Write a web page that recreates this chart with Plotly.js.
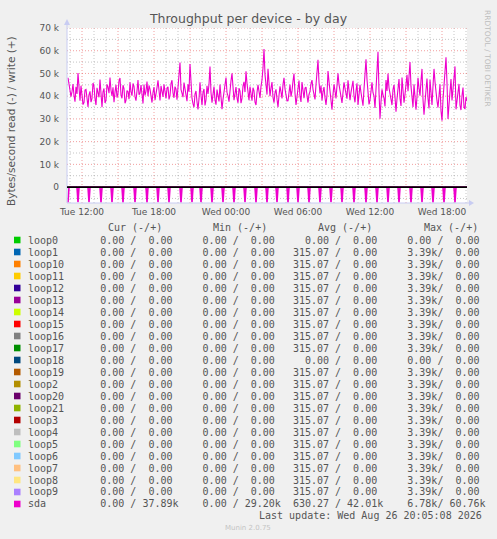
<!DOCTYPE html>
<html>
<head>
<meta charset="utf-8">
<script src="https://cdn.plot.ly/plotly-3.0.1.min.js"></script>
<style>html,body{margin:0;padding:0;background:#F0F0F0;}#chart{width:497px;height:539px;}</style>
</head>
<body>
<div id="chart"></div>
<script>
// ---------- DATA ----------
const sampleStart = '2026-08-25 10:50';   // first sample (5-minute steps)
const sampleStepMin = 5;
const viewStart = '2026-08-25 10:45';
const viewEnd = '2026-08-26 20:05';

// sda write (+), kB/s
const sdaWriteK = [
  48.1, 44.5, 43.2, 39.8, 42.0, 45.3, 40.3, 37.6, 44.1, 41.0, 50.2, 43.5, 38.0, 44.6, 41.4, 36.3, 37.2, 42.7, 43.0, 38.4,
  35.3, 40.6, 42.1, 37.4, 39.0, 45.8, 44.2, 38.9, 36.1, 43.7, 41.0, 39.5, 47.3, 40.2, 35.2, 41.9, 43.4, 37.0, 38.1, 45.2,
  44.0, 41.3, 48.2, 42.6, 40.1, 43.9, 37.3, 41.8, 45.0, 39.4, 41.2, 46.7, 48.0, 40.5, 39.1, 44.8, 43.3, 36.9, 38.2, 42.5,
  42.0, 38.7, 46.1, 41.9, 40.2, 45.6, 44.3, 39.8, 38.0, 42.4, 47.1, 40.6, 41.3, 44.9, 39.2, 36.8, 45.1, 40.3, 42.2, 46.4,
  40.0, 44.7, 43.1, 39.5, 37.2, 41.6, 44.0, 38.3, 40.3, 43.8, 47.0, 41.2, 38.1, 44.5, 42.4, 39.7, 45.2, 41.0, 39.0, 43.6,
  44.1, 38.6, 40.2, 45.5, 47.0, 41.4, 39.3, 44.2, 43.1, 38.5, 44.0, 46.3, 54.8, 43.0, 41.2, 39.6, 46.0, 43.4, 40.1, 37.8,
  45.2, 42.0, 54.1, 44.8, 39.0, 36.7, 35.1, 40.9, 42.3, 37.5, 34.2, 38.8, 46.1, 40.4, 36.0, 41.7, 43.2, 35.9, 38.3, 44.6,
  41.0, 45.3, 53.0, 41.6, 37.1, 40.8, 44.2, 38.4, 36.3, 42.9, 40.0, 37.7, 45.1, 39.9, 34.3, 38.6, 42.0, 44.9, 48.2, 41.5,
  40.1, 37.6, 43.3, 46.8, 50.1, 42.7, 38.2, 41.1, 44.0, 39.2, 37.1, 43.5, 42.2, 36.9, 39.0, 44.4, 46.3, 41.8, 51.0, 45.6,
  41.1, 38.2, 44.2, 40.5, 38.0, 43.7, 42.3, 37.4, 36.1, 41.6, 45.0, 42.1, 39.2, 44.3, 47.1, 52.4, 60.76, 49.5, 44.0, 40.7,
  52.1, 45.8, 40.0, 43.6, 46.2, 39.4, 37.1, 41.5, 43.0, 38.7, 35.2, 40.3, 44.3, 41.9, 39.0, 45.1, 48.1, 43.2, 41.2, 37.9,
  38.0, 41.4, 45.1, 39.8, 42.2, 46.6, 50.0, 41.3, 36.1, 39.7, 43.3, 46.9, 40.0, 37.5, 46.2, 42.8, 39.1, 43.6, 44.0, 40.2,
  37.2, 40.8, 42.0, 45.4, 47.1, 43.0, 40.3, 38.6, 45.0, 49.3, 56.0, 46.1, 41.2, 44.7, 38.1, 41.9, 44.0, 39.3, 36.2, 40.5,
  51.1, 46.4, 42.0, 38.5, 34.1, 40.7, 45.2, 42.3, 39.0, 44.6, 50.1, 45.2, 43.2, 39.8, 37.0, 42.5, 46.1, 43.4, 41.3, 38.9,
  47.0, 42.1, 38.2, 41.7, 44.1, 46.8, 40.0, 37.3, 42.3, 45.7, 36.1, 40.4, 45.0, 41.6, 39.2, 35.8, 43.1, 48.5, 56.2, 47.4,
  42.0, 36.4, 38.3, 43.9, 46.1, 41.5, 40.0, 34.8, 44.2, 52.7, 59.5, 41.8, 30.1, 37.6, 43.0, 40.6, 39.2, 35.5, 47.1, 42.3,
  50.0, 43.7, 41.2, 38.4, 36.1, 42.9, 45.0, 39.6, 33.2, 38.9, 44.1, 47.5, 39.0, 35.7, 48.2, 42.4, 37.1, 40.8, 46.0, 49.4,
  42.2, 47.6, 55.0, 44.3, 38.1, 35.2, 45.2, 41.0, 34.0, 39.7, 48.1, 43.5, 40.2, 46.9, 52.0, 38.6, 31.8, 37.4, 44.1, 47.8,
  39.0, 34.6, 47.2, 42.8, 36.1, 44.5, 52.0, 46.3, 41.1, 37.9, 35.0, 40.2, 45.2, 33.6, 29.2, 38.5, 44.0, 50.3, 57.1, 45.9,
  30.0, 36.2, 43.2, 47.5, 38.1, 42.6, 48.0, 53.1, 34.2, 38.7, 41.1, 45.4, 36.0, 33.9, 40.2, 43.8, 35.1, 34.4, 39.6, 37.89
];

// sda read (-), kB/s  (20 samples per row)
const sdaReadK = [
  6.78,0,0,0,0,0,0,0,0,0, 6.70,0,0,0,0,0,0,0,0,0,
  0,6.65,0,0,0,0,0,0,0,0, 0,0,0,6.72,0,0,0,0,0,0,
  0,0,0,0,6.69,0,0,0,0,0, 0,0,0,0,0,6.76,0,0,0,0,
  0,0,0,0,0,0,0,6.70,0,0, 0,0,0,0,0,0,0,0,0,6.74,
  0,0,0,0,0,0,0,0,0,0, 6.68,0,0,0,0,0,0,0,0,0,
  0,6.72,0,0,0,0,0,0,0,0, 0,0,0,6.78,0,0,0,0,0,0,
  0,0,0,0,6.70,0,0,0,0,0, 0,0,0,6.65,0,0,0,0,0,0,
  0,0,0,0,6.73,0,0,0,0,0, 0,0,0,0,0,6.69,0,0,0,0,
  0,0,0,0,0,0,6.76,0,0,0, 0,0,0,0,0,0,0,6.70,0,0,
  0,0,0,0,0,0,0,0,6.72,0, 0,0,0,0,0,0,0,0,0,6.78,
  0,0,0,0,0,0,0,0,0,6.69, 0,0,0,0,0,0,0,0,0,0,
  6.74,0,0,0,0,0,0,0,0,0, 6.70,0,0,0,0,0,0,0,0,0,
  0,6.72,0,0,0,0,0,0,0,0, 0,0,6.76,0,0,0,0,0,0,0,
  0,0,0,6.70,0,0,0,0,0,0, 0,0,0,0,6.68,0,0,0,0,0,
  0,0,0,0,0,0,6.74,0,0,0, 0,0,0,0,0,0,0,0,6.78,0,
  0,0,0,0,0,0,0,0,0,6.72, 0,0,0,0,0,0,0,0,0,0,
  6.70,0,0,0,0,0,0,0,0,0, 0,6.76,0,0,0,0,0,0,0,0,
  0,0,0,6.73,0,0,0,0,0,0, 0,0,0,0,6.69,0,0,0,0,0,
  0,0,0,0,0,6.75,0,0,0,0, 0,0,0,0,0,0,6.71,0,0,0,
  0,0,0,0,0,0,0,6.76,0,0, 0,0,0,0,0,0,0,0,0,0
];

const yTickVals = [0, 10000, 20000, 30000, 40000, 50000, 60000, 70000];
const yTickText = ['0', '10 k', '20 k', '30 k', '40 k', '50 k', '60 k', '70 k'];
const xTickVals = ['2026-08-25 12:00','2026-08-25 18:00','2026-08-26 00:00',
                   '2026-08-26 06:00','2026-08-26 12:00','2026-08-26 18:00'];
const xTickText = ['Tue 12:00','Tue 18:00','Wed 00:00','Wed 06:00','Wed 12:00','Wed 18:00'];

const devices = ['loop0','loop1','loop10','loop11','loop12','loop13','loop14','loop15','loop16','loop17',
                 'loop18','loop19','loop2','loop20','loop21','loop3','loop4','loop5','loop6','loop7',
                 'loop8','loop9','sda'];
const deviceColors = ['#00CC00','#0066B3','#FF8000','#FFCC00','#330099','#990099','#CCFF00','#FF0000',
                      '#808080','#008F00','#00487D','#B35A00','#B38F00','#6B006B','#8FB300','#B30000',
                      '#BEBEBE','#80FF80','#80C9FF','#FFC080','#FFE680','#AA80FF','#EE00CC'];
const curRead  = [0,0,0,0,0,0,0,0,0,0,0,0,0,0,0,0,0,0,0,0,0,0,0];
const curWrite = [0,0,0,0,0,0,0,0,0,0,0,0,0,0,0,0,0,0,0,0,0,0,37890];
const minRead  = [0,0,0,0,0,0,0,0,0,0,0,0,0,0,0,0,0,0,0,0,0,0,0];
const minWrite = [0,0,0,0,0,0,0,0,0,0,0,0,0,0,0,0,0,0,0,0,0,0,29200];
const avgRead  = [0,315.07,315.07,315.07,315.07,315.07,315.07,315.07,315.07,315.07,0,315.07,315.07,315.07,315.07,315.07,315.07,315.07,315.07,315.07,315.07,315.07,630.27];
const avgWrite = [0,0,0,0,0,0,0,0,0,0,0,0,0,0,0,0,0,0,0,0,0,0,42010];
const maxRead  = [0,3390,3390,3390,3390,3390,3390,3390,3390,3390,0,3390,3390,3390,3390,3390,3390,3390,3390,3390,3390,3390,6780];
const maxWrite = [0,0,0,0,0,0,0,0,0,0,0,0,0,0,0,0,0,0,0,0,0,0,60760];
const columnHeaders = ['Cur (-/+)','Min (-/+)','Avg (-/+)','Max (-/+)'];
const lastUpdate = 'Last update: Wed Aug 26 20:05:08 2026';

// ---------- BUILD ----------
function toUTC(s) { const p = s.split(/[- :]/).map(Number); return Date.UTC(p[0], p[1]-1, p[2], p[3], p[4]); }
function fmtDate(ms) { return new Date(ms).toISOString().slice(0,16).replace('T',' '); }
const t0 = toUTC(sampleStart);
const times = sdaWriteK.map((_, i) => fmtDate(t0 + i*sampleStepMin*60000));

// pixel helpers (plot area: x 67..467, y 28..203)
const L = 67, R = 467, T = 28, B = 203;
const px = x => (x - L) / (R - L);
const py = y => (B - y) / (B - T);

const textCol = '#555555';
const mono = 'DejaVu Sans Mono';
const nb = s => s.replace(/ /g, '\u00A0');
function fmt(v) {
  if (v >= 1000) return (v/1000).toFixed(2).padStart(6) + 'k';
  return v.toFixed(2).padStart(6) + ' ';
}
const pair = (r, w) => fmt(r) + '/' + fmt(w);

const annotations = [];
const shapes = [];

// grid (minor grey every hour / 5k, major red every 3 hours / 10k)
const majorGrid = 'rgba(232,80,80,0.55)';
const minorGrid = 'rgba(140,140,140,0.5)';
const gridDash = '1px,2px';
const vs = toUTC(viewStart), ve = toUTC(viewEnd);
for (let h = Math.ceil(vs/3600000)*3600000; h <= ve; h += 3600000) {
  const major = (new Date(h).getUTCHours() % 3) === 0;
  shapes.push({type:'line', xref:'x', yref:'paper', x0:fmtDate(h), x1:fmtDate(h), y0:0, y1:1,
    line:{color: major ? majorGrid : minorGrid, width:1, dash:gridDash}, layer:'below'});
}
for (let v = -5000; v <= 70000; v += 5000) {
  const major = v % 10000 === 0;
  shapes.push({type:'line', xref:'paper', yref:'y', x0:0, x1:1, y0:v, y1:v,
    line:{color: major ? majorGrid : minorGrid, width:1, dash:gridDash}, layer:'below'});
}

annotations.push({xref:'paper', yref:'paper', x:px(11), y:py(121), text:'Bytes/second read (-) / write (+)',
  textangle:-90, showarrow:false, font:{family:'DejaVu Sans', size:10.5, color:textCol}, xanchor:'center', yanchor:'middle'});
annotations.push({xref:'paper', yref:'paper', x:px(487), y:py(58), text:'RRDTOOL / TOBI OETIKER',
  textangle:90, showarrow:false, font:{family:'DejaVu Sans', size:7.5, color:'#BDBDBD'}, xanchor:'center', yanchor:'middle'});

const headerX = [107, 212, 317, 423];
columnHeaders.forEach((h, k) => annotations.push({xref:'paper', yref:'paper', x:px(headerX[k]-1), y:py(227),
  text:nb(h), showarrow:false, xanchor:'left', yanchor:'middle', font:{family:mono, size:10, color:textCol}}));

devices.forEach((d, i) => {
  const yy = 240 + i*12;
  const row = d.padEnd(10) + pair(curRead[i], curWrite[i]) + '  ' + pair(minRead[i], minWrite[i]) + '  ' +
              pair(avgRead[i], avgWrite[i]) + '  ' + pair(maxRead[i], maxWrite[i]);
  annotations.push({xref:'paper', yref:'paper', x:px(26), y:py(yy), text:nb(row), showarrow:false,
    xanchor:'left', yanchor:'middle', font:{family:mono, size:10, color:textCol}});
  shapes.push({type:'rect', xref:'paper', yref:'paper', x0:px(14), x1:px(20.5), y0:py(yy-3.3), y1:py(yy+3.3),
    fillcolor:deviceColors[i], line:{width:0}});
});

annotations.push({xref:'paper', yref:'paper', x:px(484), y:py(515.5), text:nb(lastUpdate), showarrow:false,
  xanchor:'right', yanchor:'middle', font:{family:mono, size:10, color:textCol}});
annotations.push({xref:'paper', yref:'paper', x:px(248), y:py(528), text:'Munin 2.0.75', showarrow:false,
  xanchor:'center', yanchor:'middle', font:{family:'DejaVu Sans', size:7, color:'#C4C4C4'}});

// axes lines and arrows
const axisCol = '#C8CCF2';
shapes.push({type:'line', xref:'paper', yref:'paper', x0:0, x1:px(470), y0:0, y1:0, line:{color:axisCol, width:1}, layer:'above'});
shapes.push({type:'line', xref:'paper', yref:'paper', x0:0, x1:0, y0:0, y1:py(22), line:{color:axisCol, width:1}, layer:'above'});
shapes.push({type:'path', xref:'paper', yref:'paper', fillcolor:axisCol, line:{width:0}, layer:'above',
  path:`M ${px(469)} ${py(200)} L ${px(474)} ${py(203)} L ${px(469)} ${py(206)} Z`});
shapes.push({type:'path', xref:'paper', yref:'paper', fillcolor:axisCol, line:{width:0}, layer:'above',
  path:`M ${px(64)} ${py(25)} L ${px(67)} ${py(19)} L ${px(70)} ${py(25)} Z`});
// zero rule
shapes.push({type:'line', xref:'paper', yref:'y', x0:0, x1:1, y0:0, y1:0, line:{color:'#000000', width:1.8}, layer:'above'});

const traces = [
  {x: times, y: sdaWriteK.map(v => v*1000), type:'scatter', mode:'lines', line:{color:'#EE00CC', width:1.1}, hoverinfo:'skip'},
  {x: times, y: sdaReadK.map(v => -v*1000), type:'scatter', mode:'lines', line:{color:'#EE00CC', width:1.6}, hoverinfo:'skip'}
];

const layout = {
  width: 497, height: 539,
  margin: {l: L, r: 497 - R, t: T, b: 539 - B, pad: 0},
  paper_bgcolor: '#F0F0F0', plot_bgcolor: '#FFFFFF',
  showlegend: false,
  title: {text: 'Throughput per device - by day', x: 0.5, xref: 'container', xanchor: 'center',
          y: 1 - 19/539, yref: 'container', yanchor: 'middle',
          font: {family: 'DejaVu Sans', size: 12.5, color: textCol}},
  xaxis: {type: 'date', range: [viewStart, viewEnd], tickvals: xTickVals, ticktext: xTickText,
          showgrid: false, ticks: '', showline: false, zeroline: false, fixedrange: true, ticklabelstandoff: 2,
          tickfont: {family: 'DejaVu Sans', size: 9, color: textCol}},
  yaxis: {range: [-7000, 70000], tickvals: yTickVals, ticktext: yTickText,
          showgrid: false, ticks: '', showline: false, zeroline: false, fixedrange: true, ticklabelstandoff: 7,
          tickfont: {family: 'DejaVu Sans', size: 9, color: textCol}},
  annotations: annotations,
  shapes: shapes
};

Plotly.newPlot('chart', traces, layout, {displayModeBar: false, staticPlot: true});
</script>
</body>
</html>
